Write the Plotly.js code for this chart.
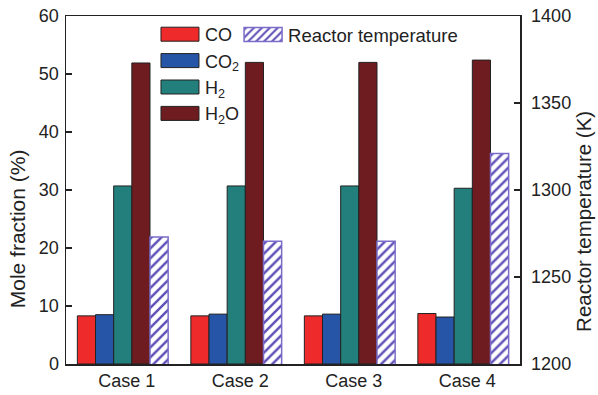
<!DOCTYPE html>
<html><head><meta charset="utf-8">
<script src="https://cdn.plot.ly/plotly-3.0.1.min.js"></script>
<style>html,body{margin:0;padding:0;background:#fff}#c{width:598px;height:395px}</style>
</head><body><div id="c"></div>
<script>
const cases = ["Case 1", "Case 2", "Case 3", "Case 4"];
const co = [8.3, 8.3, 8.3, 8.7];
const co2 = [8.5, 8.6, 8.6, 8.1];
const h2 = [30.7, 30.7, 30.7, 30.3];
const h2o = [51.9, 52.0, 52.0, 52.4];
const temp = [1273, 1270.5, 1270.5, 1321];

const F = "Liberation Sans, Arial, sans-serif";
const W = 0.16;
function bar(name, y, color, off, legend) {
  return {type: "bar", name: name, x: cases, y: y, width: W, offset: off,
    marker: {color: color, line: {color: "#222", width: 1}}, legend: legend};
}
const traces = [
  bar("CO", co, "#ee2a2a", -0.4, "legend"),
  bar("CO<sub>2</sub>", co2, "#2654a6", -0.24, "legend"),
  bar("H<sub>2</sub>", h2, "#237f7b", -0.08, "legend"),
  bar("H<sub>2</sub>O", h2o, "#6e1c20", 0.08, "legend"),
  {type: "bar", name: "Reactor temperature", x: cases, y: temp, yaxis: "y2",
   width: W, offset: 0.24, legend: "legend2",
   marker: {color: "#ffffff", line: {color: "#7a6cc8", width: 1.5},
     pattern: {shape: "/", fgcolor: "#5e4fb8", bgcolor: "#ffffff", size: 7, solidity: 0.35}}}
];
const layout = {
  width: 598, height: 395,
  margin: {l: 66, r: 78, t: 16, b: 31},
  paper_bgcolor: "#fff", plot_bgcolor: "#fff",
  font: {family: F, size: 18, color: "#222"},
  showlegend: true,
  xaxis: {type: "category", range: [-0.5, 3.5], showline: true, linecolor: "#222", linewidth: 1.5,
    mirror: true, ticks: "", tickfont: {size: 18}, showgrid: false, zeroline: false, ticklabelshift: 4},
  yaxis: {range: [0, 60], dtick: 10, ticks: "inside", ticklen: 6, tickwidth: 1.5, tickcolor: "#222",
    showline: true, linecolor: "#222", linewidth: 1.5, showgrid: false, zeroline: false,
    tickfont: {size: 18}, ticklabelstandoff: 2},
  yaxis2: {range: [1200, 1400], dtick: 50, overlaying: "y", side: "right", ticks: "inside",
    ticklen: 6, tickwidth: 1.5, tickcolor: "#222", showline: true, linecolor: "#222", linewidth: 1.5,
    showgrid: false, zeroline: false, tickfont: {size: 18}, ticklabelstandoff: 6},
  annotations: [
    {text: "Mole fraction (%)", xref: "paper", yref: "paper", x: -0.108, y: 0.39,
     xanchor: "center", yanchor: "middle", textangle: -90, showarrow: false, font: {size: 21}},
    {text: "Reactor temperature (K)", xref: "paper", yref: "paper", x: 1.14, y: 0.41,
     xanchor: "center", yanchor: "middle", textangle: -90, showarrow: false, font: {size: 20.5}}
  ],
  legend: {x: 0.196, y: 1.0, xanchor: "left", yanchor: "top", bgcolor: "rgba(0,0,0,0)",
    font: {size: 18}, itemwidth: 40, tracegroupgap: 0},
  legend2: {x: 0.379, y: 1.0, xanchor: "left", yanchor: "top", bgcolor: "rgba(0,0,0,0)",
    font: {size: 18.5}, itemwidth: 40}
};
Plotly.newPlot("c", traces, layout, {displayModeBar: false, staticPlot: true}).then(function (gd) {
  gd.querySelectorAll(".legendpoints path").forEach(function (p) {
    p.setAttribute("d", "M19,7H-19V-7H19Z");
  });
});
</script></body></html>
